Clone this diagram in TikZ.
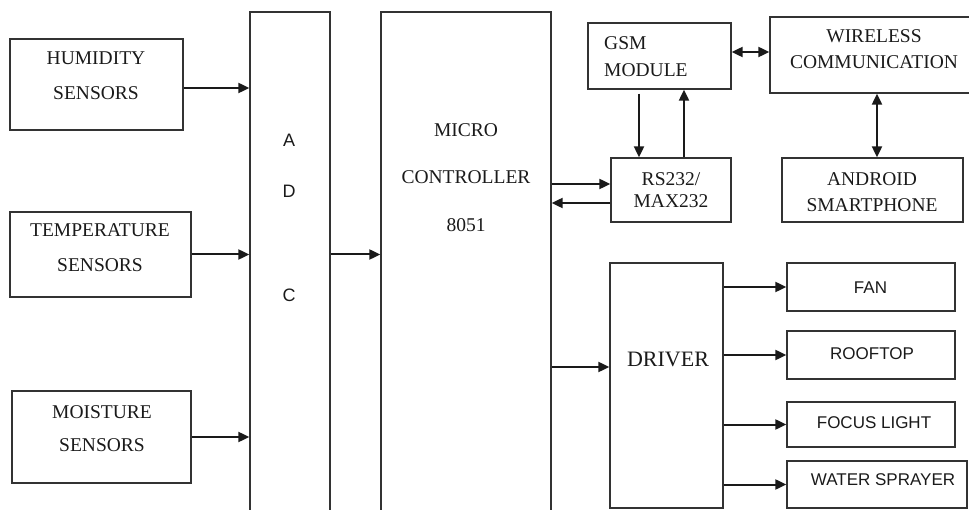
\documentclass[tikz,border=0pt]{standalone}
\usepackage{fontspec}
\setmainfont{Liberation Serif}
\newfontfamily\sansf{Liberation Sans}
\usetikzlibrary{arrows.meta}
\definecolor{ink}{HTML}{1A1A1A}
\definecolor{edge}{HTML}{333333}
\tikzset{
  blk/.style={draw=edge, line width=1.3pt, inner sep=0pt, fill=none},
  serif/.style={text=ink, inner sep=0pt, font=\fontsize{19.5}{22}\selectfont},
  sanst/.style={text=ink, inner sep=0pt, font=\sansf\fontsize{17}{20}\selectfont},
  arr/.style={draw=ink, line width=2pt, -{Triangle[length=11pt,width=10pt]}},
  darr/.style={draw=ink, line width=2pt, {Triangle[length=11pt,width=10pt]}-{Triangle[length=11pt,width=10pt]}}
}
\begin{document}
\begin{tikzpicture}[x=1pt,y=-1pt]
\useasboundingbox (0,0) rectangle (969,510);
% boxes
\node[blk, minimum width=173, minimum height=91] (hum) at (96.5,84.5) {};
\node[blk, minimum width=181, minimum height=85] (temp) at (100.5,254.5) {};
\node[blk, minimum width=179, minimum height=92] (moist) at (101.5,437) {};
\node[blk, minimum width=80, minimum height=508] (adc) at (290,266) {};
\node[blk, minimum width=170, minimum height=508] (mc) at (466,266) {};
\node[blk, minimum width=143, minimum height=66] (gsm) at (659.5,56) {};
\node[blk, minimum width=205, minimum height=76] (wl) at (872.5,55) {};
\node[blk, minimum width=120, minimum height=64] (rs) at (671,190) {};
\node[blk, minimum width=181, minimum height=64] (an) at (872.5,190) {};
\node[blk, minimum width=113, minimum height=245] (drv) at (666.5,385.5) {};
\node[blk, minimum width=168, minimum height=48] (fan) at (871,287) {};
\node[blk, minimum width=168, minimum height=48] (roof) at (871,355) {};
\node[blk, minimum width=168, minimum height=45] (focus) at (871,424.5) {};
\node[blk, minimum width=180, minimum height=47] (water) at (877,484.5) {};
% texts
\node[serif, align=center, font=\fontsize{19.5}{35}\selectfont] (humt) at (96,75.5) {HUMIDITY\\SENSORS};
\node[serif, align=center, font=\fontsize{19.5}{35}\selectfont] (tempt) at (100,247.5) {TEMPERATURE\\SENSORS};
\node[serif, align=center, font=\fontsize{19.5}{33}\selectfont] (moistt) at (102,428.5) {MOISTURE\\SENSORS};
\node[sanst, font=\sansf\fontsize{18}{20}\selectfont] (adcA) at (289,140) {A};
\node[sanst, font=\sansf\fontsize{18}{20}\selectfont] (adcD) at (289,191.5) {D};
\node[sanst, font=\sansf\fontsize{18}{20}\selectfont] (adcC) at (289,295) {C};
\node[serif, align=center, font=\fontsize{19.5}{47.5}\selectfont] (mct) at (466,177.5) {MICRO\\CONTROLLER\\8051};
\node[serif, align=left, anchor=west, font=\fontsize{19.5}{27}\selectfont] (gsmt) at (604,56.5) {GSM\\MODULE};
\node[serif, align=center, font=\fontsize{19.5}{26}\selectfont] (wlt) at (874,49) {WIRELESS\\COMMUNICATION};
\node[serif, align=center, font=\fontsize{19.5}{22.5}\selectfont] (rst) at (671,190) {RS232/\\MAX232};
\node[serif, align=center, font=\fontsize{19.5}{26}\selectfont] (ant) at (872,192) {ANDROID\\SMARTPHONE};
\node[serif, font=\fontsize{22}{26}\selectfont] (drvt) at (668,359) {DRIVER};
\node[sanst] (fant) at (870.5,287.5) {FAN};
\node[sanst] (rooft) at (872,354) {ROOFTOP};
\node[sanst] (focust) at (874,422.5) {FOCUS LIGHT};
\node[sanst] (watert) at (883,480) {WATER SPRAYER};
% connectors
\draw[arr] ([yshift=-3.5pt]hum.east) -- ([yshift=-3.5pt]hum.east -| adc.west);
\draw[arr] (temp.east) -- (temp.east -| adc.west);
\draw[arr] (moist.east) -- (moist.east -| adc.west);
\draw[arr] (adc.east |- temp.east) -- (mc.west |- temp.east);
\draw[arr] ([yshift=6pt]rs.west -| mc.east) -- ([yshift=6pt]rs.west);
\draw[arr] ([yshift=-13pt]rs.west) -- ([yshift=-13pt]rs.west -| mc.east);
\draw[darr] ([yshift=4pt]gsm.east) -- ([yshift=4pt]gsm.east -| wl.west);
\draw[arr] ([xshift=-20.5pt,yshift=-4pt]gsm.south) -- ([xshift=-20.5pt]gsm.south |- rs.north);
\draw[arr] ([xshift=24.5pt]gsm.south |- rs.north) -- ([xshift=24.5pt]gsm.south);
\draw[darr] ([xshift=4.5pt]wl.south) -- ([xshift=4.5pt]wl.south |- an.north);
\draw[arr] ([yshift=18.5pt]drv.west -| mc.east) -- ([yshift=18.5pt]drv.west);
\draw[arr] (drv.east |- fan.west) -- (fan.west);
\draw[arr] (drv.east |- roof.west) -- (roof.west);
\draw[arr] (drv.east |- focus.west) -- (focus.west);
\draw[arr] (drv.east |- water.west) -- (water.west);
\end{tikzpicture}
\end{document}
